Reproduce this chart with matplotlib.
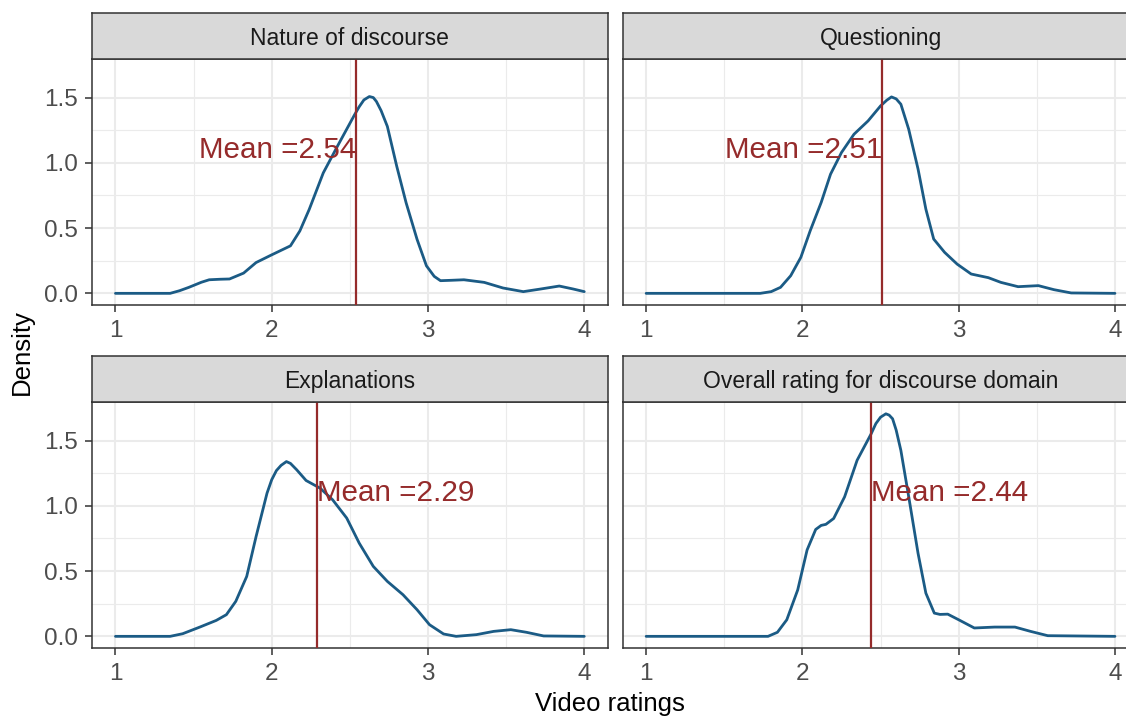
import numpy as np
import matplotlib
matplotlib.use("Agg")
import matplotlib.pyplot as plt

plt.rcParams['font.family'] = ['Liberation Sans', 'DejaVu Sans']

# ---------------- data ----------------
panel_titles = ["Nature of discourse", "Questioning", "Explanations",
                "Overall rating for discourse domain"]
means = [2.54, 2.51, 2.29, 2.44]

x_nature = [1.0, 1.35, 1.41, 1.47, 1.55, 1.60, 1.67, 1.73, 1.82, 1.90, 2.00, 2.12, 2.18,
            2.24, 2.33, 2.42, 2.53, 2.56, 2.59, 2.625, 2.65, 2.67, 2.70, 2.74, 2.80, 2.86,
            2.93, 2.99, 3.04, 3.08, 3.15, 3.23, 3.36, 3.48, 3.61, 3.72, 3.84, 3.93, 4.0]
y_nature = [0.0, 0.0, 0.02, 0.046, 0.085, 0.104, 0.108, 0.11, 0.155, 0.236, 0.295, 0.364,
            0.478, 0.643, 0.923, 1.126, 1.368, 1.43, 1.482, 1.508, 1.50, 1.47, 1.40,
            1.279, 0.974, 0.694, 0.414, 0.211, 0.13, 0.097, 0.100, 0.104, 0.084, 0.041,
            0.013, 0.033, 0.056, 0.033, 0.013]

x_quest = [1.0, 1.73, 1.80, 1.86, 1.925, 1.99, 2.05, 2.12, 2.18, 2.25, 2.33, 2.42, 2.50,
           2.54, 2.57, 2.60, 2.63, 2.68, 2.74, 2.79, 2.84, 2.91, 2.99, 3.08, 3.19, 3.27,
           3.38, 3.51, 3.61, 3.72, 4.0]
y_quest = [0.0, 0.0, 0.013, 0.046, 0.135, 0.276, 0.480, 0.696, 0.913, 1.079, 1.219, 1.321,
           1.436, 1.48, 1.505, 1.49, 1.449, 1.258, 0.952, 0.645, 0.416, 0.314, 0.224,
           0.148, 0.12, 0.084, 0.051, 0.059, 0.028, 0.003, 0.0]

x_expl = [1.0, 1.35, 1.43, 1.54, 1.645, 1.71, 1.77, 1.84, 1.90, 1.97, 2.00, 2.03, 2.06,
          2.094, 2.12, 2.16, 2.22, 2.31, 2.39, 2.48, 2.56, 2.65, 2.74, 2.84, 2.93, 3.01,
          3.10, 3.18, 3.31, 3.42, 3.53, 3.63, 3.74, 4.0]
y_expl = [0.0, 0.0, 0.02, 0.071, 0.122, 0.166, 0.268, 0.459, 0.765, 1.097, 1.20, 1.27,
          1.31, 1.339, 1.325, 1.276, 1.194, 1.135, 1.046, 0.906, 0.714, 0.536, 0.421,
          0.319, 0.204, 0.089, 0.018, 0.0, 0.013, 0.038, 0.051, 0.031, 0.003, 0.0]

x_overall = [1.0, 1.78, 1.84, 1.90, 1.97, 2.03, 2.085, 2.12, 2.15, 2.20, 2.27, 2.35, 2.44,
             2.47, 2.50, 2.534, 2.555, 2.577, 2.60, 2.63, 2.684, 2.74, 2.79, 2.844, 2.88,
             2.93, 3.00, 3.10, 3.23, 3.36, 3.46, 3.57, 4.0]
y_overall = [0.0, 0.0, 0.031, 0.127, 0.356, 0.662, 0.819, 0.85, 0.858, 0.903, 1.069, 1.349,
             1.552, 1.63, 1.679, 1.705, 1.695, 1.667, 1.58, 1.425, 1.043, 0.636, 0.331,
             0.178, 0.168, 0.170, 0.127, 0.064, 0.071, 0.071, 0.038, 0.005, 0.0]

series_x = [x_nature, x_quest, x_expl, x_overall]
series_y = [y_nature, y_quest, y_expl, y_overall]
text_align = ["right", "right", "left", "left"]

x_ticks = [1, 2, 3, 4]
y_ticks = [0.0, 0.5, 1.0, 1.5]

# ---------------- style ----------------
W, H = 1126, 718
fig = plt.figure(figsize=(W / 100, H / 100), dpi=100)

curve_col = "#1B5B85"
mean_col = "#952B2B"
border_col = "#333333"
grid_col = "#EBEBEB"

lefts = [92, 622.7]
pw = 515.7
tops = [59, 402]
ph = 245.5
strip_h = 45.7

for i in range(4):
    r, c = divmod(i, 2)
    l = lefts[c] / W
    w = pw / W
    b = 1 - (tops[r] + ph) / H
    h = ph / H
    ax = fig.add_axes([l, b, w, h])
    ax.plot(series_x[i], series_y[i], color=curve_col, lw=2.0, zorder=3,
            solid_capstyle="round", solid_joinstyle="round")
    ax.axvline(means[i], color=mean_col, lw=1.6, zorder=4)
    ax.text(means[i], 1.1, "Mean =%.2f" % means[i], color=mean_col, fontsize=21.3,
            ha=text_align[i], va="center", zorder=5)
    ax.set_xlim(0.85, 4.15)
    ax.set_ylim(-0.0855, 1.7955)
    ax.set_xticks(x_ticks)
    ax.set_xticklabels([str(t) for t in x_ticks])
    ax.set_yticks(y_ticks)
    ax.set_xticks([1.5, 2.5, 3.5], minor=True)
    ax.set_yticks([0.25, 0.75, 1.25], minor=True)
    ax.grid(True, which="major", color=grid_col, lw=1.5, zorder=0)
    ax.grid(True, which="minor", color=grid_col, lw=0.8, zorder=0)
    ax.set_axisbelow(True)
    ax.tick_params(which="minor", length=0)
    ax.tick_params(which="major", length=5, width=1.1, color=border_col,
                   labelsize=17.5, labelcolor="#4D4D4D")
    ax.tick_params(axis="x", which="major", pad=6.5)
    ax.tick_params(axis="y", which="major", pad=5)
    if c == 0:
        ax.set_yticklabels(["0.0", "0.5", "1.0", "1.5"])
    else:
        ax.tick_params(axis="y", which="major", length=0, labelleft=False)
    for sp in ax.spines.values():
        sp.set_color(border_col)
        sp.set_linewidth(1.1)

    # strip
    sb = 1 - tops[r] / H
    sax = fig.add_axes([l, sb, w, strip_h / H])
    sax.set_facecolor("#D9D9D9")
    sax.set_xticks([])
    sax.set_yticks([])
    for sp in sax.spines.values():
        sp.set_color(border_col)
        sp.set_linewidth(1.1)
    sax.text(0.5, 0.45, panel_titles[i], transform=sax.transAxes, ha="center",
             va="center", fontsize=16.5, color="#1A1A1A")

fig.text(22 / W, 1 - 352 / H, "Density", rotation=90, ha="center", va="center",
         fontsize=18.5, color="black")
fig.text(610 / W, 1 - 704 / H, "Video ratings", ha="center", va="center",
         fontsize=18.5, color="black")

fig.savefig("out.png", dpi=100, facecolor="white")
